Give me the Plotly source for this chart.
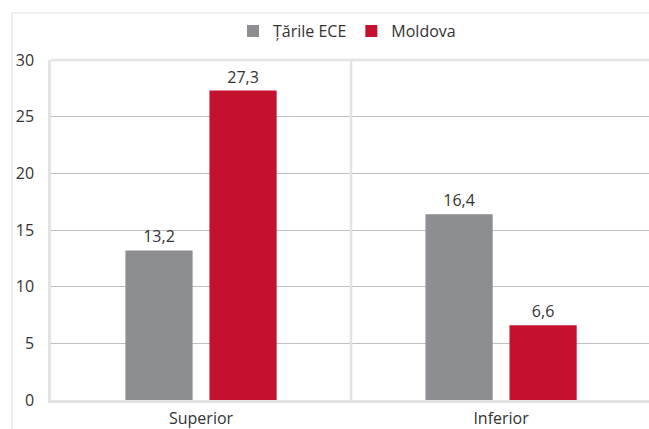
import plotly.graph_objects as go

CATEGORIES = ["Superior", "Inferior"]
ECE = [13.2, 16.4]
MOLDOVA = [27.3, 6.6]
Y_TICKS = [0, 5, 10, 15, 20, 25, 30]

GRAY = "#8d8e92"
RED = "#c3112f"
FRAME = "#e3e3e3"
FONT = "Open Sans"

fig = go.Figure()
for name, vals, color in [("Țările ECE", ECE, GRAY), ("Moldova", MOLDOVA, RED)]:
    fig.add_trace(go.Bar(
        x=CATEGORIES, y=vals, name=name, marker=dict(color=color, line_width=0),
        text=vals, texttemplate="%{y:.1f}", textposition="outside",
        textfont=dict(size=16, color="#333333", family=FONT), cliponaxis=False,
    ))

# light divider between the two categories
fig.add_shape(type="line", xref="x", yref="paper", x0=0.5, x1=0.5, y0=0, y1=1,
              line=dict(color=FRAME, width=2.5), layer="above")
# top edge of the plot area
fig.add_shape(type="line", xref="paper", yref="paper", x0=0, x1=1, y0=1, y1=1,
              line=dict(color=FRAME, width=2.5), layer="above")
# outer chart frame (top + left edges visible in the crop)
fig.add_shape(type="line", xref="paper", yref="paper", x0=-0.0652, x1=1.1, y0=1.138, y1=1.138,
              line=dict(color="#e8e8e8", width=1.5))
fig.add_shape(type="line", xref="paper", yref="paper", x0=-0.0652, x1=-0.0652, y0=1.138, y1=-0.2,
              line=dict(color="#e8e8e8", width=1.5))

fig.update_layout(
    width=649, height=429, margin=dict(l=51, r=0, t=60, b=29, autoexpand=False),
    paper_bgcolor="white", plot_bgcolor="white", separators=", ",
    font=dict(family=FONT, size=16, color="#333333"),
    barmode="group", bargap=0.44, bargroupgap=0.2,
    legend=dict(orientation="h", x=0.495, xanchor="center", y=1.085, yanchor="middle",
                font=dict(size=16, color="#333333"), itemwidth=30, itemsizing="constant",
                tracegroupgap=0, bgcolor="rgba(0,0,0,0)"),
    showlegend=True,
)
fig.update_xaxes(range=[-0.5, 1.493], showline=True, linecolor=FRAME, linewidth=2.5,
                 mirror=False, showgrid=False, ticks="", ticklabelstandoff=2, automargin=False,
                 tickfont=dict(size=16, color="#333333"))
fig.update_yaxes(range=[0, 30], tickvals=Y_TICKS, showline=True, linecolor=FRAME, linewidth=2.5,
                 showgrid=True, gridcolor="#bfbfbf", gridwidth=1, zeroline=False, automargin=False,
                 ticks="", ticklabelstandoff=11, tickfont=dict(size=16, color="#333333"))

# drop the default page margin so the figure sits at the window's top-left corner
fig.write_html("out.html", config={"displayModeBar": False},
               post_script="document.body.style.margin='0';document.body.style.overflow='hidden';")
